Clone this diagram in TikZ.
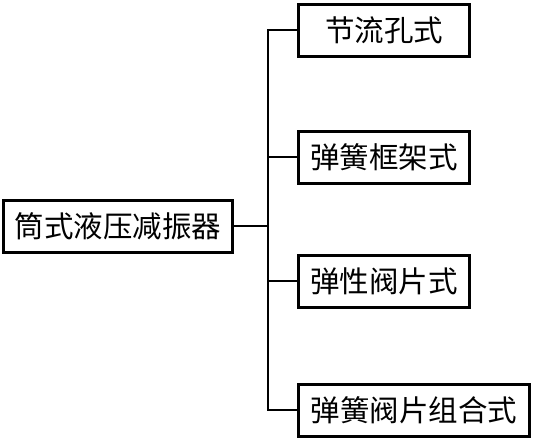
\documentclass[tikz,border=0pt]{standalone}
\usepackage{fontspec}
\newfontfamily\cjk{Noto Sans CJK SC}
\begin{document}
\begin{tikzpicture}[x=1pt,y=-1pt,
    box/.style={draw,line width=3pt,minimum height=52pt,inner sep=0pt,
      font=\cjk\fontsize{29.5}{32}\selectfont},
    link/.style={line width=1.3pt}]
\useasboundingbox (0,0) rectangle (535,440);
\node[box,minimum width=229pt] (root) at (118,226) {筒式液压减振器};
\node[box,minimum width=171pt] (a) at (384,30) {节流孔式};
\node[box,minimum width=171pt] (b) at (384,157) {弹簧框架式};
\node[box,minimum width=171pt] (c) at (384,281) {弹性阀片式};
\node[box,minimum width=231pt] (d) at (414,410) {弹簧阀片组合式};
\coordinate (j) at (268,226);
\draw[link] (root.east) -- (j);
\draw[link] (j) |- (a.west);
\draw[link] (j) |- (b.west);
\draw[link] (j) |- (c.west);
\draw[link] (j) |- (d.west);
\end{tikzpicture}
\end{document}
